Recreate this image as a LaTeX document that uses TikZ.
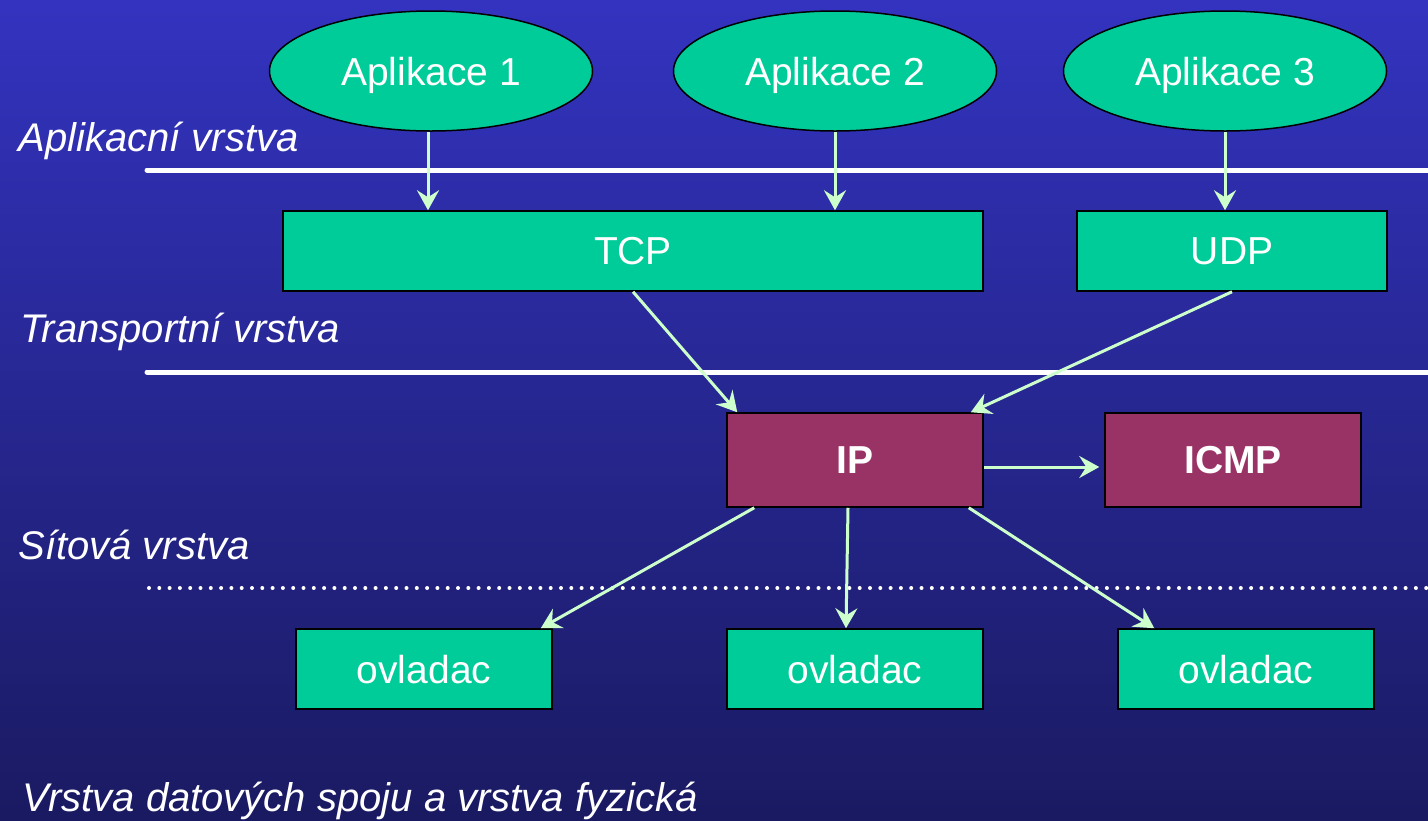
\documentclass[tikz,border=0pt]{standalone}
\usepackage{fontspec}
\setmainfont{Liberation Sans}
\usetikzlibrary{shapes.geometric,arrows.meta,positioning,calc}
\definecolor{bgtop}{RGB}{51,51,192}
\definecolor{bgbottom}{RGB}{26,26,98}
\definecolor{boxgreen}{RGB}{0,204,153}
\definecolor{ipred}{RGB}{153,51,102}
\definecolor{arrowgreen}{RGB}{204,255,204}
\newcommand{\slidefont}{\fontsize{19.5}{23}\selectfont}
\tikzset{
  app/.style={draw=black, line width=0.75pt, ellipse, fill=boxgreen, text=white,
    minimum width=161.5pt, minimum height=60pt, inner sep=0pt, text depth=0pt},
  proto/.style={draw=black, line width=0.75pt, rectangle, fill=boxgreen, text=white,
    minimum height=40pt, inner sep=0pt, text depth=0pt},
  netbox/.style={draw=black, line width=0.75pt, rectangle, fill=ipred, text=white,
    font=\slidefont\bfseries, minimum width=128pt, minimum height=47pt, inner sep=0pt,
    text depth=0pt},
  driver/.style={proto, minimum width=128pt},
  layer/.style={anchor=west, text=white, font=\fontsize{20}{24}\selectfont\itshape,
    inner sep=0pt, text depth=0pt},
  flow/.style={arrowgreen, line width=1.5pt, -{Stealth[length=10pt, width=11pt, inset=3.5pt]}},
  border/.style={white, line width=2.5pt, line cap=round}
}
\begin{document}
\begin{tikzpicture}[x=0.5pt, y=-0.5pt, font=\slidefont]
    \shade[top color=bgtop, bottom color=bgbottom] (0,0) rectangle (1428,820);
    \useasboundingbox (0,0) rectangle (1428,820);

    % aplikace
    \node (app1) [app] at (431,71) {Aplikace 1};
    \node (app2) [app] at (835,71) {Aplikace 2};
    \node (app3) [app] at (1225,71) {Aplikace 3};

    % transport
    \node (tcp) [proto, minimum width=350pt] at (633,251) {TCP};
    \node (udp) [proto, minimum width=155pt] at (1232,251) {UDP};

    % sit
    \node (ip) [netbox] at (855,460) {IP};
    \node (icmp) [netbox] at (1233,460) {ICMP};

    % ovladace
    \node (drv1) [driver] at (424,669) {ovladac};
    \node (drv2) [driver] at (855,669) {ovladac};
    \node (drv3) [driver] at (1246,669) {ovladac};

    % vrstvy
    \node (lapp) [layer] at (18,137) {Aplikacní vrstva};
    \node (ltra) [layer] at (20,328) {Transportní vrstva};
    \node (lnet) [layer] at (18,545) {Sítová vrstva};
    \node (llnk) [layer] at (22,797) {Vrstva datových spoju a vrstva fyzická};

    \coordinate (b1) at (147,170);
    \coordinate (b2) at (147,372);
    \coordinate (b3) at (149,588);
    \draw [border] (b1) -- (b1 -| 1440,0);
    \draw [border] (b2) -- (b2 -| 1440,0);
    \draw [white, line width=2pt, line cap=round, dash pattern=on 0pt off 5.15pt] (b3) -- (b3 -| 1440,0);

    \draw [flow] ([xshift=-1.5pt]app1.south) -- ([xshift=-1.5pt]app1.south |- tcp.north);
    \draw [flow] (app2.south) -- (app2.south |- tcp.north);
    \draw [flow] (app3.south) -- (app3.south |- udp.north);
    \draw [flow] (tcp.south) -- ($(ip.north west)+(11,0)$);
    \draw [flow] (udp.south) -- ($(ip.north east)+(-13,0)$);
    \draw [flow] ([yshift=-3.5pt]ip.east) -- ([yshift=-3.5pt,xshift=-2.5pt]icmp.west);
    \draw [flow] ($(ip.south west)+(28,0)$) -- ($(drv1.north east)+(-12,0)$);
    \draw [flow] ([xshift=-3.5pt]ip.south) -- ([xshift=-4.5pt]drv2.north);
    \draw [flow] ($(ip.south east)+(-15,0)$) -- ($(drv3.north west)+(37,0)$);
\end{tikzpicture}
\end{document}
